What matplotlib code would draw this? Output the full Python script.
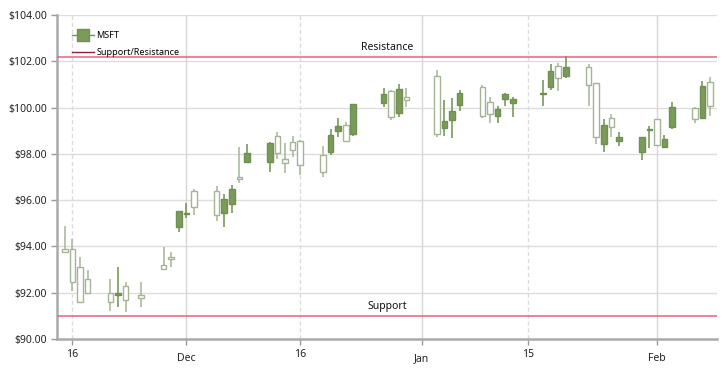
import numpy as np
import pandas as pd
import matplotlib
matplotlib.use("Agg")
import matplotlib.pyplot as plt
import matplotlib.dates as mdates
from matplotlib.lines import Line2D
from matplotlib.ticker import FuncFormatter

plt.rcParams['font.family'] = ['Noto Sans', 'DejaVu Sans']

# MSFT daily prices
dates = ["2011-11-15", "2011-11-16", "2011-11-17", "2011-11-18", "2011-11-21", "2011-11-22",
         "2011-11-23", "2011-11-25", "2011-11-28", "2011-11-29", "2011-11-30", "2011-12-01",
         "2011-12-02", "2011-12-05", "2011-12-06", "2011-12-07", "2011-12-08", "2011-12-09",
         "2011-12-12", "2011-12-13", "2011-12-14", "2011-12-15", "2011-12-16", "2011-12-19",
         "2011-12-20", "2011-12-21", "2011-12-22", "2011-12-23", "2011-12-27", "2011-12-28",
         "2011-12-29", "2011-12-30", "2012-01-03", "2012-01-04", "2012-01-05", "2012-01-06",
         "2012-01-09", "2012-01-10", "2012-01-11", "2012-01-12", "2012-01-13", "2012-01-17",
         "2012-01-18", "2012-01-19", "2012-01-20", "2012-01-23", "2012-01-24", "2012-01-25",
         "2012-01-26", "2012-01-27", "2012-01-30", "2012-01-31", "2012-02-01", "2012-02-02",
         "2012-02-03", "2012-02-06", "2012-02-07", "2012-02-08"]
opens = [93.76, 92.45, 91.58, 92.00, 91.58, 91.97, 91.68, 91.78, 93.02, 93.46, 95.53, 95.46,
         95.71, 95.36, 96.04, 96.47, 96.91, 98.05, 98.48, 98.02, 97.62, 98.17, 97.50, 97.23,
         98.81, 99.22, 98.57, 100.15, 100.59, 99.58, 100.79, 100.34, 98.86, 99.42, 99.85, 100.62,
         99.63, 99.72, 99.94, 100.57, 100.37, 100.62, 101.58, 101.27, 101.74, 100.98, 98.74, 99.25,
         99.18, 98.71, 98.71, 99.06, 98.38, 98.63, 100.01, 99.49, 100.93, 100.07]
highs = [94.89, 94.30, 93.53, 92.98, 92.59, 93.12, 92.48, 92.46, 93.99, 93.77, 95.55, 95.86,
         96.47, 96.61, 96.25, 96.65, 98.28, 98.42, 98.53, 98.93, 98.48, 98.77, 98.59, 98.34,
         99.06, 99.53, 99.37, 100.17, 100.84, 100.75, 101.00, 100.83, 101.62, 100.33, 100.40, 100.76,
         100.97, 100.45, 100.08, 100.65, 100.44, 101.19, 101.88, 101.92, 102.23, 101.88, 101.07, 99.51,
         99.72, 98.93, 98.73, 99.20, 99.51, 98.81, 100.26, 100.01, 101.16, 101.31]
lows = [93.71, 92.07, 91.54, 91.97, 91.21, 91.40, 91.18, 91.40, 93.01, 93.12, 94.64, 95.21,
        95.34, 95.10, 94.82, 95.46, 96.73, 97.62, 97.20, 97.78, 97.16, 97.88, 97.09, 97.01,
        97.95, 98.71, 98.53, 98.77, 100.01, 99.46, 99.61, 100.04, 98.74, 98.77, 98.67, 99.86,
        99.54, 99.35, 99.35, 100.07, 99.61, 100.07, 100.76, 100.73, 101.27, 100.07, 98.43, 98.06,
        98.71, 98.36, 97.73, 98.24, 98.36, 98.26, 99.06, 99.35, 99.54, 99.63]
closes = [93.89, 93.87, 93.12, 92.58, 92.00, 91.90, 92.29, 91.88, 93.20, 93.56, 94.85, 95.41,
          96.39, 96.41, 95.46, 95.82, 97.01, 97.65, 97.65, 98.77, 97.78, 98.53, 98.57, 97.94,
          98.09, 98.97, 99.25, 98.86, 100.19, 100.73, 99.75, 100.44, 101.36, 99.13, 99.46, 100.11,
          100.87, 100.26, 99.65, 100.37, 100.19, 100.57, 100.90, 101.80, 101.38, 101.74, 101.05, 98.43,
          99.56, 98.57, 98.07, 99.03, 99.49, 98.28, 99.18, 99.99, 99.56, 101.12]

support = 91.0
resistance = 102.2

up_edge = "#a4b596"
down_face = "#7b9b5b"
down_edge = "#6e9050"
line_col = "#e9607c"

x = mdates.date2num(pd.to_datetime(dates))
o = np.array(opens); h = np.array(highs); l = np.array(lows); c = np.array(closes)

fig = plt.figure(figsize=(7.27, 3.68), dpi=100)
ax = fig.add_axes([0.0788, 0.0788, 0.907, 0.8804])

w = 0.74
for xi, oi, hi, li, ci in zip(x, o, h, l, c):
    up = ci > oi
    col = up_edge if up else down_edge
    ax.vlines(xi, li, hi, color=col, lw=1.1, zorder=3)
    bottom = min(oi, ci)
    height = max(abs(ci - oi), 0.03)
    ax.add_patch(plt.Rectangle((xi - w / 2, bottom), w, height,
                               facecolor="white" if up else down_face,
                               edgecolor=col, lw=1.0, zorder=4))

ax.axhline(resistance, color=line_col, lw=1.1, zorder=5)
ax.axhline(support, color=line_col, lw=1.1, zorder=5)
ax.text(0.5, resistance + 0.15, "Resistance", transform=ax.get_yaxis_transform(),
        ha="center", va="bottom", fontsize=7.5, color="#111111")
ax.text(0.5, support + 0.15, "Support", transform=ax.get_yaxis_transform(),
        ha="center", va="bottom", fontsize=7.5, color="#111111")

ax.set_ylim(90, 104)
ax.set_yticks(np.arange(90, 104.1, 2))
ax.yaxis.set_major_formatter(FuncFormatter(lambda v, p: "${:.2f}".format(v)))

x0 = mdates.date2num(pd.Timestamp("2011-11-14"))
x1 = mdates.date2num(pd.Timestamp("2012-02-08 21:00"))
ax.set_xlim(x0, x1)
tick_dates = ["2011-11-16", "2011-12-01", "2011-12-16", "2012-01-01", "2012-01-15", "2012-02-01"]
tick_labels = ["16", "Dec", "16", "Jan", "15", "Feb"]
tx = mdates.date2num(pd.to_datetime(tick_dates))
ax.set_xticks(tx)
ax.set_xticklabels(tick_labels)
for lab in ax.get_xticklabels():
    if lab.get_text() in ("Dec", "Jan", "Feb"):
        lab.set_y(-0.012)

# grid
for yv in np.arange(92, 104.1, 2):
    ax.axhline(yv, color="#dddddd", lw=1.0, zorder=1)
for t, lab in zip(tx, tick_labels):
    if lab in ("Dec", "Jan", "Feb"):
        ax.axvline(t, color="#d6d6d6", lw=1.0, zorder=1)
    else:
        ax.axvline(t, color="#dcdcdc", lw=1.0, ls=(0, (3, 2)), zorder=1)

for s in ("top", "right"):
    ax.spines[s].set_visible(False)
ax.spines["left"].set_color("#aaaaaa")
ax.spines["left"].set_linewidth(1.8)
ax.spines["bottom"].set_color("#aaaaaa")
ax.spines["bottom"].set_linewidth(1.8)
ax.tick_params(axis="both", colors="#999999", length=4, width=1, labelcolor="#222222",
               labelsize=7.5)

handles = [Line2D([], [], color=down_edge, lw=1, marker="s", markersize=8,
                  markerfacecolor=down_face, markeredgecolor=down_edge),
           Line2D([], [], color="#8b2040", lw=1)]
ax.legend(handles, ["MSFT", "Support/Resistance"], loc="upper left",
          bbox_to_anchor=(0.01, 0.975), frameon=False, fontsize=6.5,
          handlelength=2.4, labelspacing=0.85, handletextpad=0.3)

fig.savefig("out.png", dpi=100)
